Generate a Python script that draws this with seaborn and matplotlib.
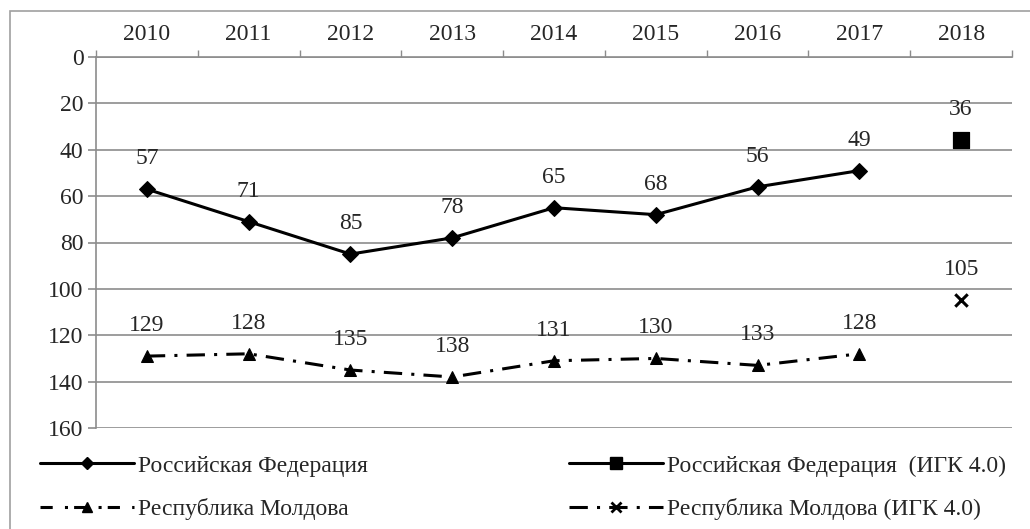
import matplotlib
matplotlib.use('Agg')
import matplotlib.pyplot as plt
import numpy as np
import pandas as pd
import seaborn as sns
from matplotlib.lines import Line2D
from matplotlib.patches import Rectangle

YEARS = ['2010', '2011', '2012', '2013', '2014', '2015', '2016', '2017', '2018']
RF_RANK = [57, 71, 85, 78, 65, 68, 56, 49]
MD_RANK = [129, 128, 135, 138, 131, 130, 133, 128]
RF_GCI4 = [36]
MD_GCI4 = [105]
LABELS = [
    'Российская Федерация',
    'Республика Молдова',
    'Российская Федерация  (ИГК 4.0)',
    'Республика Молдова (ИГК 4.0)',
]

GRID = '#8c8c8c'
FS = 17


def main():
    sns.set_style('white')
    plt.rcParams['font.family'] = ['Liberation Serif', 'DejaVu Serif']

    pos = np.arange(len(YEARS))
    rf = pd.DataFrame({'x': pos[:len(RF_RANK)], 'rank': RF_RANK})
    md = pd.DataFrame({'x': pos[:len(MD_RANK)], 'rank': MD_RANK})
    rf4 = pd.DataFrame({'x': pos[len(RF_RANK):], 'rank': RF_GCI4})
    md4 = pd.DataFrame({'x': pos[len(MD_RANK):], 'rank': MD_GCI4})

    fig = plt.figure(figsize=(10.3, 5.29), dpi=100)
    ax = fig.add_axes([96 / 1030, 1 - 428 / 529, (1012 - 96) / 1030, (428 - 57) / 529])

    sns.lineplot(data=rf, x='x', y='rank', ax=ax, color='black', lw=2.2,
                 marker='D', markersize=8, markeredgecolor='black')
    sns.lineplot(data=md, x='x', y='rank', ax=ax, color='black', lw=2.2,
                 marker='^', markersize=9, markeredgecolor='black')
    ax.lines[-1].set_dashes([6, 3, 1, 3])
    sns.scatterplot(data=rf4, x='x', y='rank', ax=ax, color='black', marker='s', s=120,
                    edgecolor='black')
    sns.scatterplot(data=md4, x='x', y='rank', ax=ax, color='black', marker='x', s=80,
                    linewidth=2.2)

    for df in (rf, md, rf4, md4):
        for x, y in zip(df['x'], df['rank']):
            ax.annotate(str(y), (x, y), xytext=(0, 22), textcoords='offset points',
                        ha='center', va='center', fontsize=FS)

    ax.set_ylim(160, 0)
    ax.set_xlim(-0.5, len(YEARS) - 0.5)
    ax.set_yticks(range(0, 161, 20))
    ax.yaxis.grid(True, color=GRID, lw=1.2)
    ax.set_axisbelow(True)

    ax.xaxis.tick_top()
    ax.set_xticks(np.arange(-0.5, len(YEARS)), labels=[''] * (len(YEARS) + 1))
    ax.set_xticks(pos, labels=YEARS, minor=True)
    ax.tick_params(axis='x', which='major', direction='out', length=5, color=GRID, width=1)
    ax.tick_params(axis='x', which='minor', length=0, labelsize=FS, pad=9)
    ax.tick_params(axis='y', direction='out', length=6, color=GRID, width=1.2, labelsize=FS,
                   left=True, pad=3)
    ax.set_xlabel('')
    ax.set_ylabel('')

    for side in ('right', 'bottom'):
        ax.spines[side].set_visible(False)
    ax.spines['left'].set_color(GRID)
    ax.spines['left'].set_linewidth(1.2)
    ax.spines['top'].set_color(GRID)
    ax.spines['top'].set_linewidth(1.2)

    handles = [
        Line2D([], [], color='black', lw=2.2, marker='D', markersize=6),
        Line2D([], [], color='black', lw=2.2, marker='^', markersize=7, dashes=[4, 4, 1, 2]),
        Line2D([], [], color='black', lw=2.2, marker='s', markersize=8),
        Line2D([], [], color='black', lw=2.2, marker='x', markersize=7, mew=2,
               dashes=[6, 3, 1, 3]),
    ]
    fig.legend(handles, LABELS, loc='upper left', bbox_to_anchor=(40 / 1030, 1 - 455 / 529),
               ncol=2, frameon=False, fontsize=FS, handlelength=4.0, handletextpad=0.15,
               labelspacing=0.93, columnspacing=8.5, borderpad=0, borderaxespad=0)

    fig.patches.append(Rectangle((10 / 1030, -0.1), 1.2, 1.1 - 11 / 529,
                                 transform=fig.transFigure, fill=False, edgecolor='#a0a0a0',
                                 lw=1.2))

    fig.savefig('out.png', dpi=100)
    plt.close(fig)


if __name__ == '__main__':
    main()
